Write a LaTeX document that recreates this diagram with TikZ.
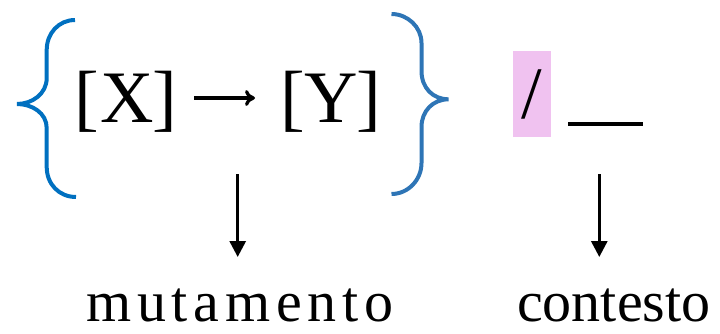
\documentclass[tikz,border=0pt]{standalone}
\usepackage{fontspec}
\newfontfamily\tnr{Liberation Serif}
\usetikzlibrary{arrows.meta}
\definecolor{braceleft}{HTML}{0070C0}
\definecolor{braceright}{HTML}{2E75B6}
\definecolor{hilite}{HTML}{F0C2F0}
\def\gapk{\kern5.8pt}
\begin{document}
\begin{tikzpicture}[x=1pt,y=1pt,
  big/.style={inner sep=0pt, anchor=base west, font=\tnr\fontsize{74}{80}\selectfont},
  small/.style={inner sep=0pt, anchor=base west, text depth=0pt, font=\tnr\fontsize{58}{64}\selectfont},
  bracestroke/.style={line width=4pt, line cap=butt},
  downarrow/.style={line width=3pt, -{Triangle[width=16pt,length=16pt]}},
  rulestroke/.style={line width=4pt}]
\useasboundingbox (0,0) rectangle (720,-334);

% left and right braces
\draw[bracestroke, braceleft] (75,-20) .. controls (59,-20) and (46.7,-33) .. (46.7,-50)
  -- (46.7,-78) .. controls (46.7,-94) and (32,-104) .. (17,-104)
  .. controls (32,-104) and (46.7,-113) .. (46.7,-128)
  -- (46.7,-167) .. controls (46.7,-184) and (59,-197) .. (76,-197);
\draw[bracestroke, braceright] (391.5,-14) .. controls (407.5,-14) and (421.5,-27) .. (421.5,-43)
  -- (421.5,-71) .. controls (421.5,-88) and (433,-99.3) .. (448.5,-99.3)
  .. controls (433,-99.3) and (421.5,-111) .. (421.5,-127)
  -- (421.5,-163) .. controls (421.5,-180) and (408,-194) .. (391.5,-194);

% the rule  [X] -> [Y]
\node[big] (src) at (74,-123) {[\kern2pt X\kern-2pt]};
\node[big] (tgt) at (280,-123) {[Y\kern-2pt]};
\draw[line width=3.2pt, -{Computer Modern Rightarrow[width=16pt,length=10pt]},
  shorten <=17pt, shorten >=25pt]
  ([yshift=25pt]src.base east) -- ([yshift=25pt]tgt.base west);

% environment slash and blank
\node[fill=hilite, inner sep=0pt, minimum width=38pt, minimum height=86pt,
  font=\tnr\fontsize{74}{80}\selectfont] (slash) at (532,-94) {/};
\coordinate (blankL) at (568,-124.5);
\coordinate (blankR) at (643,-124.5);
\draw[rulestroke] (blankL) -- (blankR);

% labels
\node[small] (mut) at (86,-321.5) {m\gapk u\gapk t\gapk a\gapk m\gapk e\gapk n\gapk t\gapk o};
\node[small] (ctx) at (517,-321.5) {contesto};

\coordinate (a1) at (237.7,-174);
\coordinate (a1e) at (237.7,-257);
\coordinate (a2) at (599.3,-174);
\coordinate (a2e) at (599.3,-257);
\draw[downarrow] (a1) -- (a1e);
\draw[downarrow] (a2) -- (a2e);
\end{tikzpicture}
\end{document}
